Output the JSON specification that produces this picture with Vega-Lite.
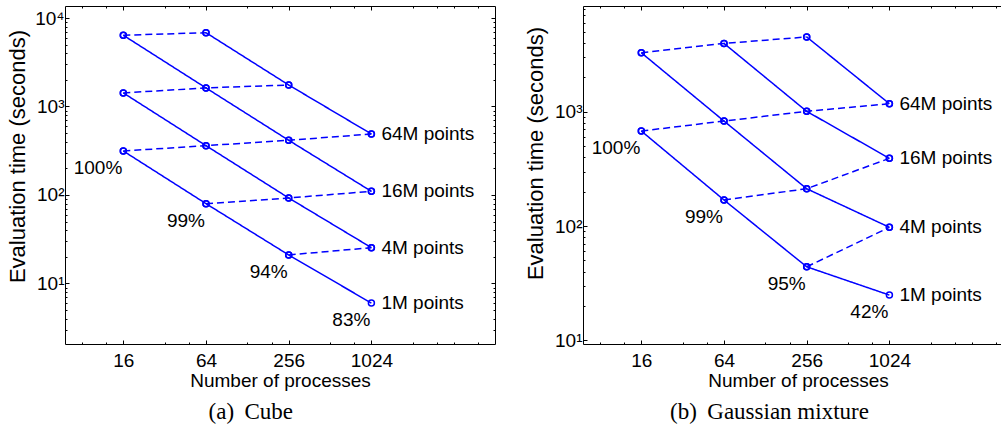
{
  "$schema": "https://vega.github.io/schema/vega-lite/v6.json",
  "background": "white",
  "padding": {"left": 6, "top": 5, "right": 0, "bottom": 0},
  "spacing": 28,
  "datasets": {
    "lines": [
      {"p": "a", "s": "aS64", "d": "solid", "n": 64, "t": 6820},
      {"p": "a", "s": "aS64", "d": "solid", "n": 256, "t": 1750},
      {"p": "a", "s": "aS64", "d": "solid", "n": 1024, "t": 489},
      {"p": "a", "s": "aS16", "d": "solid", "n": 16, "t": 6380},
      {"p": "a", "s": "aS16", "d": "solid", "n": 64, "t": 1620},
      {"p": "a", "s": "aS16", "d": "solid", "n": 256, "t": 415},
      {"p": "a", "s": "aS16", "d": "solid", "n": 1024, "t": 110},
      {"p": "a", "s": "aS4", "d": "solid", "n": 16, "t": 1423},
      {"p": "a", "s": "aS4", "d": "solid", "n": 64, "t": 361},
      {"p": "a", "s": "aS4", "d": "solid", "n": 256, "t": 92.5},
      {"p": "a", "s": "aS4", "d": "solid", "n": 1024, "t": 25.4},
      {"p": "a", "s": "aS1", "d": "solid", "n": 16, "t": 314},
      {"p": "a", "s": "aS1", "d": "solid", "n": 64, "t": 79.8},
      {"p": "a", "s": "aS1", "d": "solid", "n": 256, "t": 21},
      {"p": "a", "s": "aS1", "d": "solid", "n": 1024, "t": 6.0},
      {"p": "a", "s": "aW1", "d": "dashed", "n": 16, "t": 314},
      {"p": "a", "s": "aW1", "d": "dashed", "n": 64, "t": 361},
      {"p": "a", "s": "aW1", "d": "dashed", "n": 256, "t": 415},
      {"p": "a", "s": "aW1", "d": "dashed", "n": 1024, "t": 489},
      {"p": "a", "s": "aW2", "d": "dashed", "n": 16, "t": 1423},
      {"p": "a", "s": "aW2", "d": "dashed", "n": 64, "t": 1620},
      {"p": "a", "s": "aW2", "d": "dashed", "n": 256, "t": 1750},
      {"p": "a", "s": "aW3", "d": "dashed", "n": 16, "t": 6380},
      {"p": "a", "s": "aW3", "d": "dashed", "n": 64, "t": 6820},
      {"p": "a", "s": "aW4", "d": "dashed", "n": 64, "t": 79.8},
      {"p": "a", "s": "aW4", "d": "dashed", "n": 256, "t": 92.5},
      {"p": "a", "s": "aW4", "d": "dashed", "n": 1024, "t": 110},
      {"p": "a", "s": "aW5", "d": "dashed", "n": 256, "t": 21},
      {"p": "a", "s": "aW5", "d": "dashed", "n": 1024, "t": 25.4},
      {"p": "b", "s": "bS64", "d": "solid", "n": 256, "t": 4510},
      {"p": "b", "s": "bS64", "d": "solid", "n": 1024, "t": 1175},
      {"p": "b", "s": "bS16", "d": "solid", "n": 64, "t": 3960},
      {"p": "b", "s": "bS16", "d": "solid", "n": 256, "t": 1008},
      {"p": "b", "s": "bS16", "d": "solid", "n": 1024, "t": 391},
      {"p": "b", "s": "bS4", "d": "solid", "n": 16, "t": 3280},
      {"p": "b", "s": "bS4", "d": "solid", "n": 64, "t": 829},
      {"p": "b", "s": "bS4", "d": "solid", "n": 256, "t": 212},
      {"p": "b", "s": "bS4", "d": "solid", "n": 1024, "t": 97.5},
      {"p": "b", "s": "bS1", "d": "solid", "n": 16, "t": 678},
      {"p": "b", "s": "bS1", "d": "solid", "n": 64, "t": 169},
      {"p": "b", "s": "bS1", "d": "solid", "n": 256, "t": 44},
      {"p": "b", "s": "bS1", "d": "solid", "n": 1024, "t": 24.9},
      {"p": "b", "s": "bW1", "d": "dashed", "n": 16, "t": 678},
      {"p": "b", "s": "bW1", "d": "dashed", "n": 64, "t": 829},
      {"p": "b", "s": "bW1", "d": "dashed", "n": 256, "t": 1008},
      {"p": "b", "s": "bW1", "d": "dashed", "n": 1024, "t": 1175},
      {"p": "b", "s": "bW2", "d": "dashed", "n": 16, "t": 3280},
      {"p": "b", "s": "bW2", "d": "dashed", "n": 64, "t": 3960},
      {"p": "b", "s": "bW2", "d": "dashed", "n": 256, "t": 4510},
      {"p": "b", "s": "bW3", "d": "dashed", "n": 64, "t": 169},
      {"p": "b", "s": "bW3", "d": "dashed", "n": 256, "t": 212},
      {"p": "b", "s": "bW3", "d": "dashed", "n": 1024, "t": 391},
      {"p": "b", "s": "bW4", "d": "dashed", "n": 256, "t": 44},
      {"p": "b", "s": "bW4", "d": "dashed", "n": 1024, "t": 97.5}
    ],
    "labels": [
      {"p": "a", "k": "eff", "n": 16, "t": 314, "txt": "100%"},
      {"p": "a", "k": "eff", "n": 64, "t": 79.8, "txt": "99%"},
      {"p": "a", "k": "eff", "n": 256, "t": 21, "txt": "94%"},
      {"p": "a", "k": "eff", "n": 1024, "t": 6.0, "txt": "83%"},
      {"p": "a", "k": "size", "n": 1024, "t": 489, "txt": "64M points"},
      {"p": "a", "k": "size", "n": 1024, "t": 110, "txt": "16M points"},
      {"p": "a", "k": "size", "n": 1024, "t": 25.4, "txt": "4M points"},
      {"p": "a", "k": "size", "n": 1024, "t": 6.0, "txt": "1M points"},
      {"p": "b", "k": "eff", "n": 16, "t": 678, "txt": "100%"},
      {"p": "b", "k": "eff", "n": 64, "t": 169, "txt": "99%"},
      {"p": "b", "k": "eff", "n": 256, "t": 44, "txt": "95%"},
      {"p": "b", "k": "eff", "n": 1024, "t": 24.9, "txt": "42%"},
      {"p": "b", "k": "size", "n": 1024, "t": 1175, "txt": "64M points"},
      {"p": "b", "k": "size", "n": 1024, "t": 391, "txt": "16M points"},
      {"p": "b", "k": "size", "n": 1024, "t": 97.5, "txt": "4M points"},
      {"p": "b", "k": "size", "n": 1024, "t": 24.9, "txt": "1M points"}
    ]
  },
  "hconcat": [
    {
      "width": 430,
      "height": 338,
      "title": {"text": "(a)\u2009 Cube", "orient": "bottom", "anchor": "middle", "frame": "bounds", "offset": 11, "font": "Liberation Serif", "fontSize": 23, "fontWeight": "normal", "color": "#000"},
      "resolve": {"axis": {"x": "independent", "y": "independent"}},
      "layer": [
        {
          "data": {"name": "lines"},
          "transform": [{"filter": "datum.p === 'a'"}],
          "mark": {"type": "line", "color": "#0000ff", "strokeWidth": 1.5},
          "encoding": {
            "x": {"field": "n", "type": "quantitative", "scale": {"type": "log", "domain": [6.02, 8133], "nice": false},
              "axis": {"orient": "bottom", "values": [16, 64, 256, 1024], "format": "d", "tickSize": -4, "labelPadding": 11, "title": "Number of processes", "titleY": 42, "titleBaseline": "alphabetic"}},
            "y": {"field": "t", "type": "quantitative", "scale": {"type": "log", "domain": [2.07, 13665], "nice": false},
              "axis": {"orient": "left", "values": [10, 100, 1000, 10000], "labelExpr": "datum.value === 10 ? '10¹' : datum.value === 100 ? '10²' : datum.value === 1000 ? '10³' : '10⁴'", "tickSize": -4, "labelPadding": 5, "title": "Evaluation time (seconds)", "titleFontSize": 22, "titleX": -48, "titleY": 150, "titleBaseline": "middle"}},
            "detail": {"field": "s"},
            "strokeDash": {"field": "d", "type": "nominal", "scale": {"domain": ["solid", "dashed"], "range": [[1, 0], [7, 4]]}, "legend": null}
          }
        },
        {
          "data": {"name": "lines"},
          "transform": [{"filter": "datum.p === 'a'"}],
          "mark": {"type": "point", "shape": "circle", "filled": false, "color": "#0000ff", "strokeWidth": 1.5, "size": 36, "opacity": 1},
          "encoding": {
            "x": {"field": "n", "type": "quantitative", "scale": {"type": "log", "domain": [6.02, 8133], "nice": false},
              "axis": {"orient": "top", "values": [16, 64, 256, 1024], "labels": false, "title": null, "tickSize": -4}},
            "y": {"field": "t", "type": "quantitative", "scale": {"type": "log", "domain": [2.07, 13665], "nice": false},
              "axis": {"orient": "right", "values": [10, 100, 1000, 10000], "labels": false, "title": null, "tickSize": -4}}
          }
        },
        {
          "data": {"name": "labels"},
          "transform": [{"filter": "datum.p === 'a' && datum.k === 'eff'"}],
          "mark": {"type": "text", "align": "right", "baseline": "middle", "dx": -1, "dy": 17, "fontSize": 19, "font": "Liberation Sans", "color": "#000"},
          "encoding": {
            "x": {"field": "n", "type": "quantitative", "scale": {"type": "log", "domain": [6.02, 8133], "nice": false},
              "axis": {"orient": "bottom", "values": [8, 12, 32, 48, 128, 192, 512, 768, 2048, 3072, 4096, 6144], "labels": false, "title": null, "domain": false, "tickSize": -2}},
            "y": {"field": "t", "type": "quantitative", "scale": {"type": "log", "domain": [2.07, 13665], "nice": false},
              "axis": {"orient": "left", "values": [3, 4, 5, 6, 7, 8, 9, 20, 30, 40, 50, 60, 70, 80, 90, 200, 300, 400, 500, 600, 700, 800, 900, 2000, 3000, 4000, 5000, 6000, 7000, 8000, 9000], "labels": false, "title": null, "domain": false, "tickSize": -2}},
            "text": {"field": "txt"}
          }
        },
        {
          "data": {"name": "labels"},
          "transform": [{"filter": "datum.p === 'a' && datum.k === 'size'"}],
          "mark": {"type": "text", "align": "left", "baseline": "middle", "dx": 10, "dy": 0, "fontSize": 19, "font": "Liberation Sans", "color": "#000"},
          "encoding": {
            "x": {"field": "n", "type": "quantitative", "scale": {"type": "log", "domain": [6.02, 8133], "nice": false},
              "axis": {"orient": "top", "values": [8, 12, 32, 48, 128, 192, 512, 768, 2048, 3072, 4096, 6144], "labels": false, "title": null, "domain": false, "tickSize": -2}},
            "y": {"field": "t", "type": "quantitative", "scale": {"type": "log", "domain": [2.07, 13665], "nice": false},
              "axis": {"orient": "right", "values": [3, 4, 5, 6, 7, 8, 9, 20, 30, 40, 50, 60, 70, 80, 90, 200, 300, 400, 500, 600, 700, 800, 900, 2000, 3000, 4000, 5000, 6000, 7000, 8000, 9000], "labels": false, "title": null, "domain": false, "tickSize": -2}},
            "text": {"field": "txt"}
          }
        }
      ]
    },
    {
      "width": 418,
      "height": 338,
      "title": {"text": "(b)\u2009 Gaussian mixture", "orient": "bottom", "anchor": "middle", "frame": "bounds", "offset": 11, "dx": 7, "font": "Liberation Serif", "fontSize": 23, "fontWeight": "normal", "color": "#000"},
      "resolve": {"axis": {"x": "independent", "y": "independent"}},
      "layer": [
        {
          "data": {"name": "lines"},
          "transform": [{"filter": "datum.p === 'b'"}],
          "mark": {"type": "line", "color": "#0000ff", "strokeWidth": 1.5},
          "encoding": {
            "x": {"field": "n", "type": "quantitative", "scale": {"type": "log", "domain": [6.02, 6650], "nice": false},
              "axis": {"orient": "bottom", "values": [16, 64, 256, 1024], "format": "d", "tickSize": -4, "labelPadding": 11, "title": "Number of processes", "titleY": 42, "titleBaseline": "alphabetic", "titleX": 215}},
            "y": {"field": "t", "type": "quantitative", "scale": {"type": "log", "domain": [9.29, 8414], "nice": false},
              "axis": {"orient": "left", "values": [10, 100, 1000], "labelExpr": "datum.value === 10 ? '10¹' : datum.value === 100 ? '10²' : datum.value === 1000 ? '10³' : '10⁴'", "tickSize": -4, "labelPadding": 5, "title": "Evaluation time (seconds)", "titleFontSize": 22, "titleX": -48, "titleY": 147, "titleBaseline": "middle"}},
            "detail": {"field": "s"},
            "strokeDash": {"field": "d", "type": "nominal", "scale": {"domain": ["solid", "dashed"], "range": [[1, 0], [7, 4]]}, "legend": null}
          }
        },
        {
          "data": {"name": "lines"},
          "transform": [{"filter": "datum.p === 'b'"}],
          "mark": {"type": "point", "shape": "circle", "filled": false, "color": "#0000ff", "strokeWidth": 1.5, "size": 36, "opacity": 1},
          "encoding": {
            "x": {"field": "n", "type": "quantitative", "scale": {"type": "log", "domain": [6.02, 6650], "nice": false},
              "axis": {"orient": "top", "values": [16, 64, 256, 1024], "labels": false, "title": null, "tickSize": -4}},
            "y": {"field": "t", "type": "quantitative", "scale": {"type": "log", "domain": [9.29, 8414], "nice": false}, "axis": null}
          }
        },
        {
          "data": {"name": "labels"},
          "transform": [{"filter": "datum.p === 'b' && datum.k === 'eff'"}],
          "mark": {"type": "text", "align": "right", "baseline": "middle", "dx": -1, "dy": 17, "fontSize": 19, "font": "Liberation Sans", "color": "#000"},
          "encoding": {
            "x": {"field": "n", "type": "quantitative", "scale": {"type": "log", "domain": [6.02, 6650], "nice": false},
              "axis": {"orient": "bottom", "values": [8, 12, 32, 48, 128, 192, 512, 768, 2048, 3072, 4096, 6144], "labels": false, "title": null, "domain": false, "tickSize": -2}},
            "y": {"field": "t", "type": "quantitative", "scale": {"type": "log", "domain": [9.29, 8414], "nice": false},
              "axis": {"orient": "left", "values": [20, 30, 40, 50, 60, 70, 80, 90, 200, 300, 400, 500, 600, 700, 800, 900, 2000, 3000, 4000, 5000, 6000, 7000, 8000], "labels": false, "title": null, "domain": false, "tickSize": -2}},
            "text": {"field": "txt"}
          }
        },
        {
          "data": {"name": "labels"},
          "transform": [{"filter": "datum.p === 'b' && datum.k === 'size'"}],
          "mark": {"type": "text", "align": "left", "baseline": "middle", "dx": 10, "dy": 0, "fontSize": 19, "font": "Liberation Sans", "color": "#000"},
          "encoding": {
            "x": {"field": "n", "type": "quantitative", "scale": {"type": "log", "domain": [6.02, 6650], "nice": false},
              "axis": {"orient": "top", "values": [8, 12, 32, 48, 128, 192, 512, 768, 2048, 3072, 4096, 6144], "labels": false, "title": null, "domain": false, "tickSize": -2}},
            "y": {"field": "t", "type": "quantitative", "scale": {"type": "log", "domain": [9.29, 8414], "nice": false}, "axis": null},
            "text": {"field": "txt"}
          }
        }
      ]
    }
  ],
  "config": {
    "view": {"stroke": null},
    "axis": {
      "grid": false,
      "domainColor": "#000",
      "domainWidth": 1,
      "tickColor": "#000",
      "tickWidth": 1,
      "labelFont": "Liberation Sans",
      "labelFontSize": 19,
      "labelColor": "#000",
      "labelFlush": false,
      "labelOverlap": false,
      "titleFont": "Liberation Sans",
      "titleFontSize": 19,
      "titleFontWeight": "normal",
      "titleColor": "#000"
    }
  }
}
